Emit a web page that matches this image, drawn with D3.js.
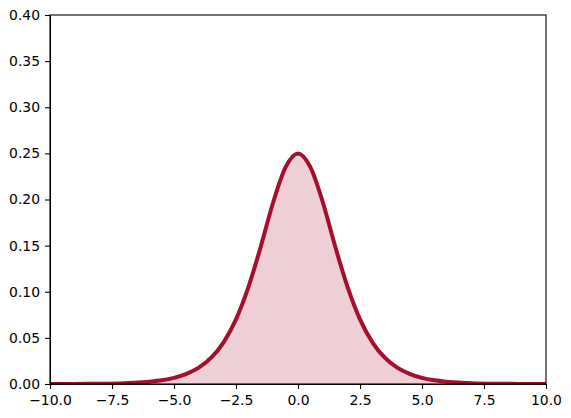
<!DOCTYPE html>
<html>
<head>
<meta charset="utf-8">
<script src="https://cdn.jsdelivr.net/npm/d3@7"></script>
<style>
    body { margin: 0; background: #fff; }
    .axis text { font-family: "DejaVu Sans", sans-serif; font-size: 13.9px; fill: #000; }
    .axis path, .axis line { stroke: #000; stroke-width: 1.1px; }
</style>
</head>
<body>
<div id="chart"></div>
<script>
    const COLORS = {
        line: '#a50f2d',
        fill: 'rgba(165, 15, 45, 0.2)'
    };

    // values
    const xValues = [-10, -9, -8, -7, -6.5, -6, -5.5, -5, -4.5, -4, -3.5, -3, -2.5, -2, -1.5, -1, -0.5, 0,
        0.5, 1, 1.5, 2, 2.5, 3, 3.5, 4, 4.5, 5, 5.5, 6, 6.5, 7, 8, 9, 10];
    const yValues = [0.00005, 0.0001, 0.0003, 0.0009, 0.0015, 0.0025, 0.004, 0.0066, 0.011, 0.0177, 0.0285, 0.0452, 0.0701, 0.105, 0.149, 0.197, 0.235, 0.25,
        0.235, 0.197, 0.149, 0.105, 0.0701, 0.0452, 0.0285, 0.0177, 0.011, 0.0066, 0.004, 0.0025, 0.0015, 0.0009, 0.0003, 0.0001, 0.00005];
    const xTicks = [-10, -7.5, -5, -2.5, 0, 2.5, 5, 7.5, 10];
    const yTicks = [0, 0.05, 0.1, 0.15, 0.2, 0.25, 0.3, 0.35, 0.4];

    const W = 571, H = 418;
    const margin = { top: 15, right: 25, bottom: 34, left: 50 };
    const width = W - margin.left - margin.right;
    const height = H - margin.top - margin.bottom;

    const svg = d3.select('#chart').append('svg')
        .attr('width', W)
        .attr('height', H)
        .append('g')
        .attr('transform', `translate(${margin.left},${margin.top})`);

    const x = d3.scaleLinear().domain([-10, 10]).range([0, width]);
    const y = d3.scaleLinear().domain([0, 0.4]).range([height, 0]);

    const data = xValues.map((v, i) => ({ x: v, y: yValues[i] }));

    svg.append('clipPath')
        .attr('id', 'clip')
        .append('rect')
        .attr('width', width)
        .attr('height', height);

    const plot = svg.append('g').attr('clip-path', 'url(#clip)');

    plot.append('path')
        .datum(data)
        .attr('fill', COLORS.fill)
        .attr('d', d3.area()
            .x(d => x(d.x))
            .y0(height)
            .y1(d => y(d.y))
            .curve(d3.curveMonotoneX));

    plot.append('path')
        .datum(data)
        .attr('fill', 'none')
        .attr('stroke', COLORS.line)
        .attr('stroke-width', 4)
        .attr('stroke-linejoin', 'round')
        .attr('d', d3.line()
            .x(d => x(d.x))
            .y(d => y(d.y))
            .curve(d3.curveMonotoneX));

    svg.append('g')
        .attr('class', 'axis')
        .attr('transform', `translate(0,${height})`)
        .call(d3.axisBottom(x)
            .tickValues(xTicks)
            .tickSize(5)
            .tickPadding(6)
            .tickSizeOuter(0)
            .tickFormat(d3.format('.1f')));

    svg.append('g')
        .attr('class', 'axis')
        .call(d3.axisLeft(y)
            .tickValues(yTicks)
            .tickSize(5)
            .tickPadding(5)
            .tickSizeOuter(0)
            .tickFormat(d3.format('.2f')));

    // top and right spines
    svg.append('rect')
        .attr('width', width)
        .attr('height', height)
        .attr('fill', 'none')
        .attr('stroke', '#000')
        .attr('stroke-width', 1.1);
</script>
</body>
</html>
